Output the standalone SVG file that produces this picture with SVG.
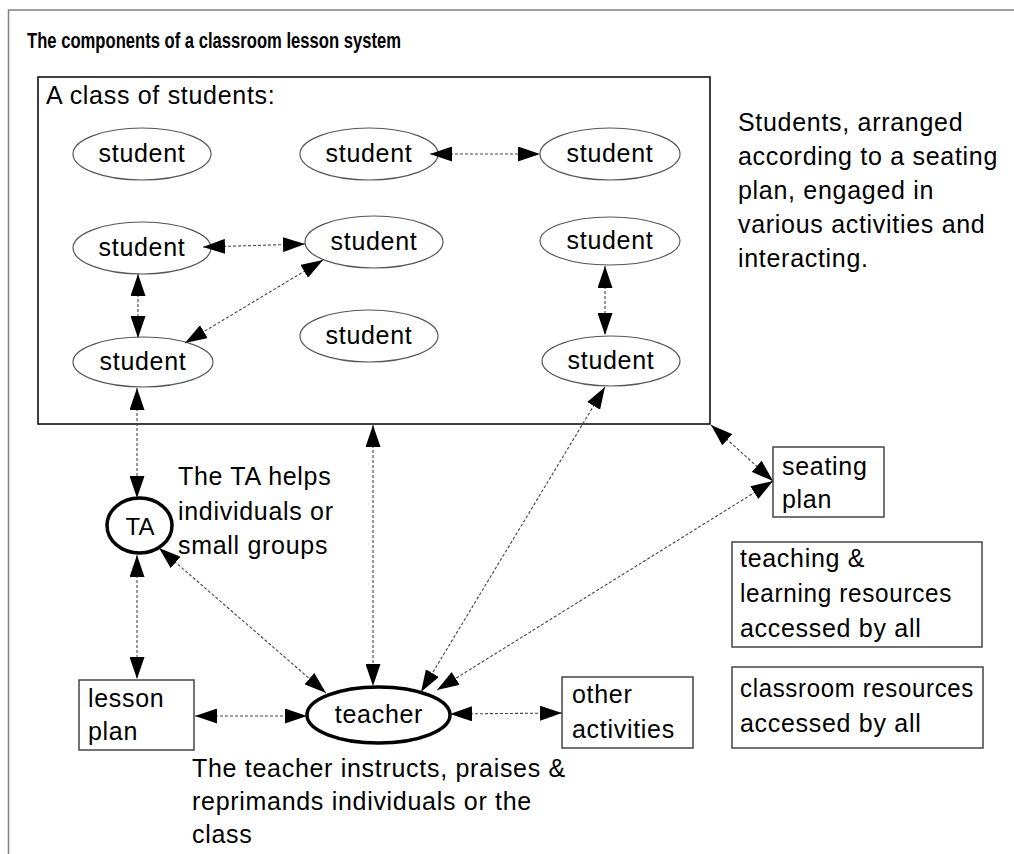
<svg xmlns="http://www.w3.org/2000/svg" width="1014" height="854" viewBox="0 0 1014 854">
<style>
text{font-family:"Liberation Sans",Arial,sans-serif;fill:#000}
.b{font-size:25px;letter-spacing:0.7px}
.m{text-anchor:middle}
.st{fill:#fff;stroke:#555;stroke-width:1.2}
.bx{fill:#fff;stroke:#444;stroke-width:1.5}
.thick{fill:#fff;stroke:#000;stroke-width:3.5}
.c line{stroke:#444;stroke-width:1.1;stroke-dasharray:3 2;marker-start:url(#ah);marker-end:url(#ah)}
</style>
<defs>
<marker id="ah" viewBox="0 0 22 15" refX="22" refY="7.5" markerWidth="22" markerHeight="15" markerUnits="userSpaceOnUse" orient="auto-start-reverse"><path d="M0,0 L22,7.5 L0,15 z" fill="#000"/></marker>
</defs>
<rect x="0" y="0" width="1014" height="854" fill="#fff"/>
<rect x="8.5" y="10" width="1030" height="870" fill="none" stroke="#808080" stroke-width="1.5"/>
<text x="27" y="48" font-size="22" font-weight="bold" textLength="374" lengthAdjust="spacingAndGlyphs">The components of a classroom lesson system</text>

<g id="class">
<rect x="38" y="77" width="672" height="347" fill="#fff" stroke="#000" stroke-width="1.5"/>
<text class="b" x="46" y="104">A class of students:</text>
</g>
<g id="student1"><ellipse class="st" cx="142" cy="154" rx="69" ry="26"/><text class="b m" x="142" y="162">student</text></g>
<g id="student2"><ellipse class="st" cx="369" cy="154" rx="69" ry="26"/><text class="b m" x="369" y="162">student</text></g>
<g id="student3"><ellipse class="st" cx="610" cy="154" rx="70" ry="26"/><text class="b m" x="610" y="162">student</text></g>
<g id="student4"><ellipse class="st" cx="142" cy="248" rx="69" ry="26"/><text class="b m" x="142" y="256">student</text></g>
<g id="student5"><ellipse class="st" cx="374" cy="242" rx="69" ry="26"/><text class="b m" x="374" y="250">student</text></g>
<g id="student6"><ellipse class="st" cx="610" cy="241" rx="70" ry="24"/><text class="b m" x="610" y="249">student</text></g>
<g id="student7"><ellipse class="st" cx="369" cy="336" rx="69" ry="26"/><text class="b m" x="369" y="344">student</text></g>
<g id="student8"><ellipse class="st" cx="143" cy="362" rx="70" ry="25"/><text class="b m" x="143" y="370">student</text></g>
<g id="student9"><ellipse class="st" cx="611" cy="361" rx="69" ry="25"/><text class="b m" x="611" y="369">student</text></g>

<g id="class-note">
<text class="b" x="738" y="131">Students, arranged</text>
<text class="b" x="738" y="165">according to a seating</text>
<text class="b" x="738" y="199">plan, engaged in</text>
<text class="b" x="738" y="233">various activities and</text>
<text class="b" x="738" y="267">interacting.</text>
</g>

<g id="ta"><ellipse class="thick" cx="139.5" cy="525.5" rx="32.5" ry="27.5"/><text class="m" x="140" y="535" font-size="24">TA</text></g>
<g id="ta-note">
<text class="b" x="178" y="485">The TA helps</text>
<text class="b" x="178" y="520">individuals or</text>
<text class="b" x="178" y="554">small groups</text>
</g>

<g id="seating"><rect class="bx" x="773" y="447" width="111" height="70"/><text class="b" x="782" y="475">seating</text><text class="b" x="782" y="508">plan</text></g>
<g id="teaching"><rect class="bx" x="732" y="542" width="250" height="105"/><text class="b" x="740" y="567">teaching &amp;</text><text class="b" x="740" y="602" textLength="212" lengthAdjust="spacingAndGlyphs">learning resources</text><text class="b" x="740" y="637">accessed by all</text></g>
<g id="classroom"><rect class="bx" x="732" y="667" width="251" height="81"/><text class="b" x="740" y="697" textLength="234" lengthAdjust="spacingAndGlyphs">classroom resources</text><text class="b" x="740" y="732">accessed by all</text></g>
<g id="lesson"><rect class="bx" x="79" y="680" width="115" height="70" stroke="#000"/><text class="b" x="88" y="707">lesson</text><text class="b" x="88" y="740">plan</text></g>
<g id="other"><rect class="bx" x="562" y="677" width="131" height="71"/><text class="b" x="572" y="703">other</text><text class="b" x="572" y="738">activities</text></g>
<g id="teacher"><ellipse class="thick" cx="378.5" cy="715" rx="71.5" ry="28"/><text class="b m" x="379" y="723">teacher</text></g>
<g id="teacher-note">
<text class="b" x="192" y="777">The teacher instructs, praises &amp;</text>
<text class="b" x="192" y="810">reprimands individuals or the</text>
<text class="b" x="192" y="843">class</text>
</g>

<g id="connectors" class="c">
<line x1="430" y1="154" x2="540" y2="154"/>
<line x1="203" y1="247" x2="305" y2="244"/>
<line x1="138" y1="274" x2="138" y2="338"/>
<line x1="323" y1="260" x2="185" y2="343"/>
<line x1="605" y1="266" x2="605" y2="335"/>
<line x1="137" y1="388" x2="137" y2="498"/>
<line x1="137" y1="555" x2="137" y2="679"/>
<line x1="159" y1="548" x2="326" y2="693"/>
<line x1="373" y1="425" x2="373" y2="686"/>
<line x1="605" y1="387" x2="421" y2="692"/>
<line x1="773" y1="481" x2="437" y2="690"/>
<line x1="711" y1="425" x2="773" y2="481"/>
<line x1="195" y1="716" x2="307" y2="716"/>
<line x1="450" y1="714" x2="562" y2="713"/>
</g>
</svg>
